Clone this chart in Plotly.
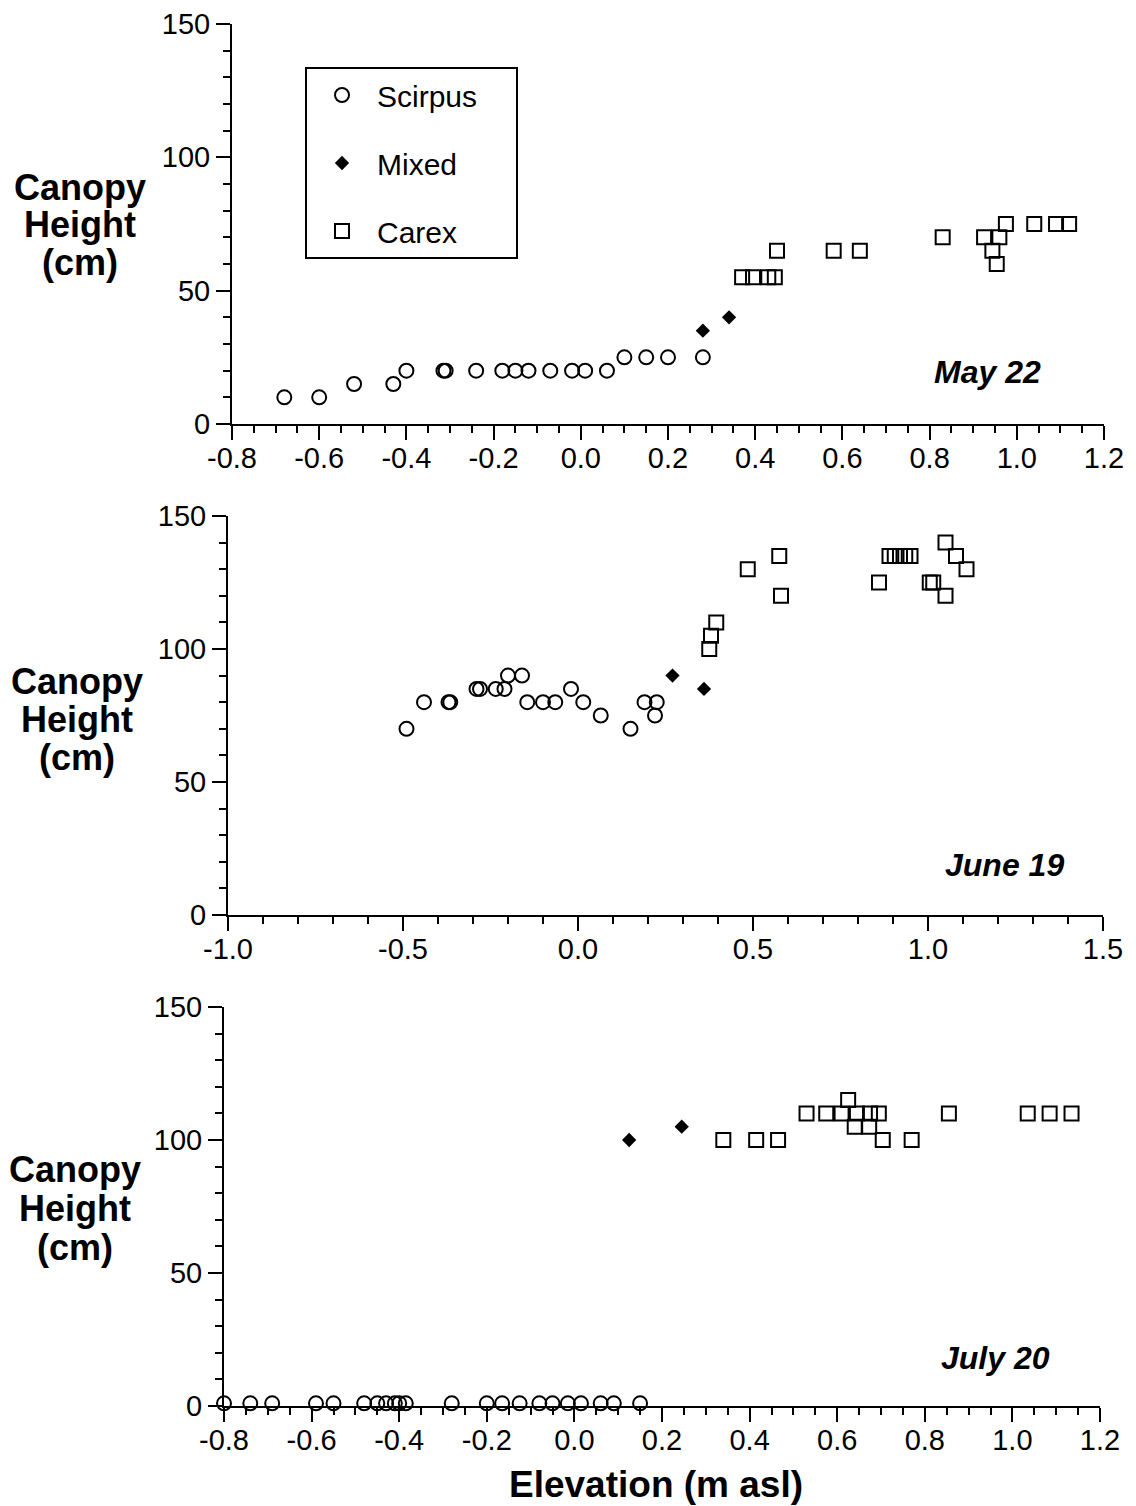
import plotly.graph_objects as go

W, H = 1136, 1506
OFF = 8  # the page body adds an 8px margin around the figure

# ---------------- data ----------------
# May 22
may_scirpus_x = [-0.68, -0.60, -0.52, -0.43, -0.40, -0.315, -0.31, -0.24, -0.18, -0.15, -0.12,
                 -0.07, -0.02, 0.01, 0.06, 0.10, 0.15, 0.20, 0.28]
may_scirpus_y = [10, 10, 15, 15, 20, 20, 20, 20, 20, 20, 20, 20, 20, 20, 20, 25, 25, 25, 25]
may_mixed_x = [0.28, 0.34]
may_mixed_y = [35, 40]
may_carex_x = [0.37, 0.395, 0.43, 0.445, 0.45, 0.58, 0.64, 0.83, 0.925, 0.944, 0.954, 0.96,
               0.975, 1.04, 1.09, 1.12]
may_carex_y = [55, 55, 55, 55, 65, 65, 65, 70, 70, 65, 60, 70, 75, 75, 75, 75]

# June 19
jun_scirpus_x = [-0.49, -0.44, -0.37, -0.365, -0.29, -0.28, -0.235, -0.21, -0.20, -0.16, -0.145,
                 -0.10, -0.065, -0.02, 0.015, 0.065, 0.15, 0.19, 0.22, 0.225]
jun_scirpus_y = [70, 80, 80, 80, 85, 85, 85, 85, 90, 90, 80, 80, 80, 85, 80, 75, 70, 80, 75, 80]
jun_mixed_x = [0.27, 0.36]
jun_mixed_y = [90, 85]
jun_carex_x = [0.375, 0.38, 0.395, 0.485, 0.575, 0.58, 0.86, 0.89, 0.905, 0.92, 0.935, 0.95,
               1.005, 1.015, 1.05, 1.05, 1.08, 1.11]
jun_carex_y = [100, 105, 110, 130, 135, 120, 125, 135, 135, 135, 135, 135, 125, 125, 140, 120,
               135, 130]

# July 20
jul_scirpus_x = [-0.80, -0.74, -0.69, -0.59, -0.55, -0.48, -0.45, -0.43, -0.41, -0.40, -0.385,
                 -0.28, -0.20, -0.165, -0.125, -0.08, -0.05, -0.015, 0.015, 0.06, 0.09, 0.15]
jul_scirpus_y = [1] * 22
jul_mixed_x = [0.125, 0.245]
jul_mixed_y = [100, 105]
jul_carex_x = [0.34, 0.415, 0.465, 0.53, 0.575, 0.61, 0.625, 0.645, 0.64, 0.675, 0.673, 0.695,
               0.704, 0.77, 0.855, 1.035, 1.085, 1.135]
jul_carex_y = [100, 100, 100, 110, 110, 110, 115, 110, 105, 110, 105, 110, 100, 100, 110, 110,
               110, 110]

# tick labels
x_ticks_a = [-0.8, -0.6, -0.4, -0.2, 0.0, 0.2, 0.4, 0.6, 0.8, 1.0, 1.2]
x_labels_a = ["-0.8", "-0.6", "-0.4", "-0.2", "0.0", "0.2", "0.4", "0.6", "0.8", "1.0", "1.2"]
x_ticks_b = [-1.0, -0.5, 0.0, 0.5, 1.0, 1.5]
x_labels_b = ["-1.0", "-0.5", "0.0", "0.5", "1.0", "1.5"]
y_ticks = [0, 50, 100, 150]
y_labels = ["0", "50", "100", "150"]
dates = ["May 22", "June 19", "July 20"]
series_names = ["Scirpus", "Mixed", "Carex"]

FONT = "Liberation Sans, Arial, Helvetica, sans-serif"


def px(x):
    return (x - OFF) / W


def py(y):
    return 1 - (y - OFF) / H


fig = go.Figure()

panels = [
    ("x", "y", (may_scirpus_x, may_scirpus_y), (may_mixed_x, may_mixed_y), (may_carex_x, may_carex_y)),
    ("x2", "y2", (jun_scirpus_x, jun_scirpus_y), (jun_mixed_x, jun_mixed_y), (jun_carex_x, jun_carex_y)),
    ("x3", "y3", (jul_scirpus_x, jul_scirpus_y), (jul_mixed_x, jul_mixed_y), (jul_carex_x, jul_carex_y)),
]

pad = "\u00a0" * 4
for i, (xa, ya, sc, mx, cx) in enumerate(panels):
    first = i == 0
    fig.add_trace(go.Scatter(
        x=sc[0], y=sc[1], xaxis=xa, yaxis=ya, mode="markers", cliponaxis=False,
        name=series_names[0] + pad, legendgroup="a", showlegend=first,
        marker=dict(symbol="circle-open", size=14, color="black", line=dict(width=2, color="black")),
    ))
    fig.add_trace(go.Scatter(
        x=mx[0], y=mx[1], xaxis=xa, yaxis=ya, mode="markers", cliponaxis=False,
        name=series_names[1], legendgroup="b", showlegend=first,
        marker=dict(symbol="diamond", size=11, color="black", line=dict(width=0)),
    ))
    fig.add_trace(go.Scatter(
        x=cx[0], y=cx[1], xaxis=xa, yaxis=ya, mode="markers", cliponaxis=False,
        name=series_names[2], legendgroup="c", showlegend=first,
        marker=dict(symbol="square-open", size=14, color="black", line=dict(width=2, color="black")),
    ))


def xaxis(rng, ticks, labels, minor_dt, dom, anchor):
    return dict(
        range=rng, domain=dom, anchor=anchor, tickvals=ticks, ticktext=labels,
        ticks="outside", ticklen=14, tickwidth=2, tickcolor="black", ticklabelstandoff=-7,
        showline=True, linecolor="black", linewidth=2, mirror=False,
        showgrid=False, zeroline=False, fixedrange=True, automargin=False,
        tickfont=dict(family=FONT, size=29, color="black"),
        minor=dict(dtick=minor_dt, ticks="outside", ticklen=7, tickwidth=1.5, tickcolor="black",
                   showgrid=False),
    )


def yaxis(dom, anchor):
    return dict(
        range=[0, 150], domain=dom, anchor=anchor, tickvals=y_ticks, ticktext=y_labels,
        ticks="outside", ticklen=14, tickwidth=2, tickcolor="black",
        showline=True, linecolor="black", linewidth=2,
        showgrid=False, zeroline=False, fixedrange=True, automargin=False,
        tickfont=dict(family=FONT, size=29, color="black"),
        minor=dict(dtick=10, ticks="outside", ticklen=7, tickwidth=1.5, tickcolor="black",
                   showgrid=False),
    )


fig.update_layout(
    width=W, height=H, margin=dict(l=0, r=0, t=0, b=0, pad=0, autoexpand=False),
    paper_bgcolor="white", plot_bgcolor="white",
    font=dict(family=FONT, color="black"),
    xaxis=xaxis([-0.8, 1.2], x_ticks_a, x_labels_a, 0.05, [px(232), px(1104)], "y"),
    yaxis=yaxis([py(424), py(24)], "x"),
    xaxis2=xaxis([-1.0, 1.5], x_ticks_b, x_labels_b, 0.1, [px(228), px(1103)], "y2"),
    yaxis2=yaxis([py(915), py(516)], "x2"),
    xaxis3=xaxis([-0.8, 1.2], x_ticks_a, x_labels_a, 0.05, [px(224), px(1100)], "y3"),
    yaxis3=yaxis([py(1406), py(1007)], "x3"),
    showlegend=True,
    legend=dict(
        x=px(305), y=py(67), xanchor="left", yanchor="top",
        bordercolor="black", borderwidth=2, bgcolor="white",
        font=dict(family=FONT, size=30, color="black"),
        traceorder="grouped", tracegroupgap=26, itemwidth=60,
    ),
)

# y-axis titles, one line per annotation to match the tight line spacing
title_lines = ["<b>Canopy</b>", "<b>Height</b>", "<b>(cm)</b>"]
title_pos = [(80, [187, 225, 263]), (77, [681, 719, 757]), (75, [1169, 1208, 1247])]
for cxp, ys in title_pos:
    for t, yy in zip(title_lines, ys):
        fig.add_annotation(text=t, x=px(cxp), y=py(yy), xref="paper", yref="paper",
                           xanchor="center", yanchor="middle", showarrow=False, borderpad=0,
                           font=dict(family=FONT, size=36, color="black"))

# date labels
for d, (dx, dy) in zip(dates, [(987, 372), (1004, 865), (995, 1358)]):
    fig.add_annotation(text="<b><i>" + d + "</i></b>", x=px(dx), y=py(dy), xref="paper", yref="paper",
                       xanchor="center", yanchor="middle", showarrow=False,
                       font=dict(family=FONT, size=32, color="black"))

# x-axis title
fig.add_annotation(text="<b>Elevation (m asl)</b>", x=px(656), y=py(1484), xref="paper", yref="paper",
                   xanchor="center", yanchor="middle", showarrow=False,
                   font=dict(family=FONT, size=37, color="black"))

fig.write_html("out.html")
